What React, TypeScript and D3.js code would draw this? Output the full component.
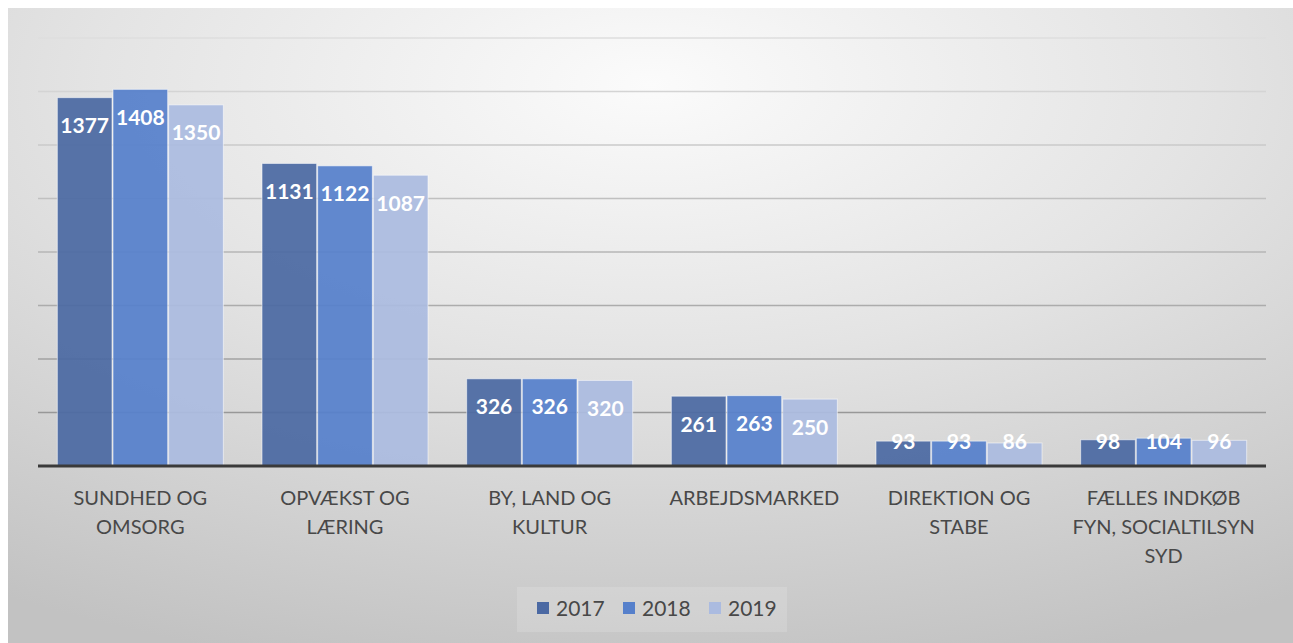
import React from "react";
import * as d3 from "d3";

const categories = [
  "SUNDHED OG OMSORG",
  "OPVÆKST OG LÆRING",
  "BY, LAND OG KULTUR",
  "ARBEJDSMARKED",
  "DIREKTION OG STABE",
  "FÆLLES INDKØB FYN, SOCIALTILSYN SYD",
];
const seriesNames = ["2017", "2018", "2019"];
const values2017 = [1377, 1131, 326, 261, 93, 98];
const values2018 = [1408, 1122, 326, 263, 93, 104];
const values2019 = [1350, 1087, 320, 250, 86, 96];
const yTicks = [0, 200, 400, 600, 800, 1000, 1200, 1400, 1600];

const colors = ["#4b69a3", "#5680cb", "#abbbe0"];
const FONT = "Lato, 'Open Sans', sans-serif";

function wrap(text: string, maxW: number, font: string): string[] {
  const c = document.createElement("canvas").getContext("2d")!;
  c.font = font;
  const words = text.split(" ");
  const lines: string[] = [];
  let cur = "";
  for (const w of words) {
    const t = cur ? cur + " " + w : w;
    if (c.measureText(t).width > maxW && cur) {
      lines.push(cur);
      cur = w;
    } else cur = t;
  }
  if (cur) lines.push(cur);
  return lines;
}

export default function App() {
  const W = 1293, H = 643;
  const left = 38, right = 1266, top = 38, bottom = 466;
  const data = [values2017, values2018, values2019];
  const x0 = d3.scaleBand<string>().domain(categories).range([left, right]).paddingInner(0.184).paddingOuter(0.092);
  const x1 = d3.scaleBand<string>().domain(seriesNames).range([0, x0.bandwidth()]).padding(0);
  const y = d3.scaleLinear().domain([0, 1600]).range([bottom, top]);
  const gridColor = d3.scaleLinear<string>().domain([top, bottom]).range(["#dedede", "#8e8e8e"]);
  const catFont = `20px ${FONT}`;

  return (
    <svg width={W} height={H} style={{ position: "absolute", left: 0, top: 0 }} fontFamily={FONT}>
      <defs>
        <radialGradient id="bg" cx="50%" cy="12%" r="95%" fx="50%" fy="12%">
          <stop offset="0%" stopColor="#fbfbfb" />
          <stop offset="45%" stopColor="#e4e4e4" />
          <stop offset="100%" stopColor="#c2c2c2" />
        </radialGradient>
      </defs>
      <rect x={0} y={0} width={W} height={H} fill="#ffffff" />
      <rect x={8} y={8} width={W - 8} height={H - 8} fill="url(#bg)" />
      {yTicks.slice(1).map((t) => (
        <line key={t} x1={left} x2={right} y1={y(t)} y2={y(t)} stroke={gridColor(y(t))} strokeWidth={1.5} />
      ))}
      {categories.map((cat, i) => (
        <g key={cat} transform={`translate(${x0(cat)},0)`}>
          {seriesNames.map((s, j) => {
            const v = data[j][i];
            const yt = y(v);
            const ly = Math.min(yt + 28, 441);
            return (
              <g key={s}>
                <rect x={x1(s)! + 0.5} y={yt} width={x1.bandwidth() - 1} height={bottom - yt} fill={colors[j]} fillOpacity={0.93} stroke="#ffffff" strokeOpacity={0.55} strokeWidth={1} />
                <text x={x1(s)! + x1.bandwidth() / 2} y={ly} dy="0.36em" textAnchor="middle" fill="#ffffff" fontWeight={700} fontSize={21}>
                  {v}
                </text>
              </g>
            );
          })}
        </g>
      ))}
      <line x1={left} x2={right} y1={bottom} y2={bottom} stroke="#3a3a3a" strokeWidth={3} />
      {categories.map((cat) => {
        const lines = wrap(cat, 192, catFont);
        const cx = x0(cat)! + x0.bandwidth() / 2;
        return (
          <text key={cat} x={cx} y={498} textAnchor="middle" fill="#484848" fontSize={20} dy="0.35em">
            {lines.map((l, k) => (
              <tspan key={k} x={cx} dy={k === 0 ? "0.35em" : 29}>{l}</tspan>
            ))}
          </text>
        );
      })}
      <rect x={517} y={587} width={270} height={45} fill="#ffffff" fillOpacity={0.15} />
      {seriesNames.map((s, j) => {
        const lx = [537, 623, 709][j];
        return (
          <g key={s}>
            <rect x={lx} y={602} width={12} height={12} fill={colors[j]} />
            <text x={lx + 19} y={608} dy="0.36em" fontSize={21} fill="#484848">{s}</text>
          </g>
        );
      })}
    </svg>
  );
}
